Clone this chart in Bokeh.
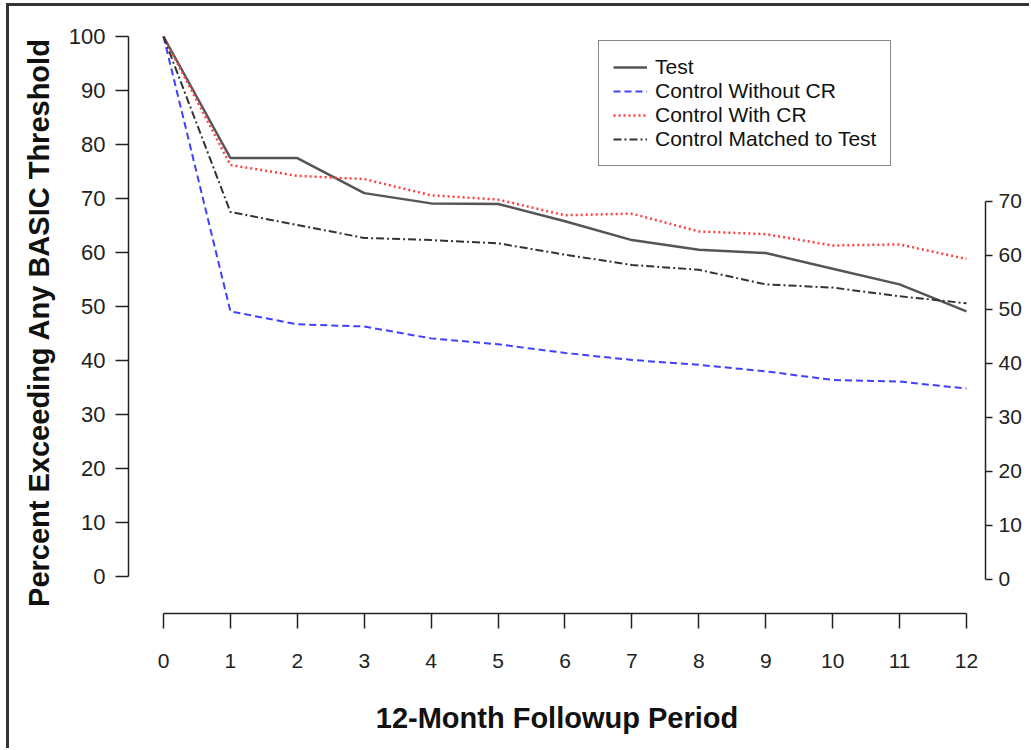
from bokeh.plotting import figure
from bokeh.models import Range1d, LinearAxis, FixedTicker, Legend, LegendItem
from bokeh.embed import file_html
from bokeh.resources import INLINE

months = list(range(13))
test = [100, 77.5, 77.5, 71.0, 69.1, 69.0, 65.8, 62.3, 60.5, 59.9, 57.0, 54.1, 49.1]
ctrl_without_cr = [100, 49.1, 46.7, 46.3, 44.1, 43.0, 41.4, 40.1, 39.2, 38.0, 36.4, 36.1, 34.8]
ctrl_with_cr = [100, 76.2, 74.2, 73.6, 70.6, 69.8, 66.9, 67.2, 63.9, 63.4, 61.3, 61.5, 58.8]
ctrl_matched = [100, 67.5, 65.1, 62.7, 62.3, 61.7, 59.6, 57.7, 56.8, 54.1, 53.5, 51.9, 50.6]
series_names = ["Test", "Control Without CR", "Control With CR", "Control Matched to Test"]
left_ticks = list(range(0, 101, 10))
right_ticks = list(range(0, 71, 10))

FONT = "Liberation Sans"
AX = "#222222"

p = figure(width=1023, height=745, output_backend="svg", toolbar_location=None,
           x_range=Range1d(-0.523, 12.284), y_range=Range1d(-6.85, 100.93),
           min_border_left=119, min_border_right=47, min_border_top=25, min_border_bottom=138,
           x_axis_location=None, y_axis_location=None)
p.styles = {"border-top": "3px solid #333333", "border-left": "3px solid #333333"}
p.margin = (3, 0, 0, 6)
p.grid.visible = False
p.outline_line_color = None
p.background_fill_color = "white"
p.border_fill_color = "white"
p.extra_y_ranges = {"right": Range1d(-6.30, 101.48)}

def style_axis(ax, tick_out, standoff, size):
    ax.axis_line_color = AX
    ax.axis_line_width = 1.5
    ax.major_tick_line_color = AX
    ax.major_tick_line_width = 1.5
    ax.major_tick_out = tick_out
    ax.major_tick_in = 0
    ax.minor_tick_line_color = None
    ax.major_label_text_font = FONT
    ax.major_label_text_font_size = size
    ax.major_label_text_color = AX
    ax.major_label_standoff = standoff
    ax.axis_label_text_font = FONT
    ax.axis_label_text_font_style = "bold"
    ax.axis_label_text_font_size = "29px"
    ax.axis_label_text_color = "#111111"

yl = LinearAxis(ticker=FixedTicker(ticks=left_ticks), bounds=(0, 100),
                axis_label="Percent Exceeding Any BASIC Threshold")
style_axis(yl, 13, 10, "22px")
yl.axis_label_standoff = 11
p.add_layout(yl, "left")

yr = LinearAxis(y_range_name="right", ticker=FixedTicker(ticks=right_ticks), bounds=(0, 70))
style_axis(yr, 7, 6, "21px")
p.add_layout(yr, "right")

xb = LinearAxis(ticker=FixedTicker(ticks=months), bounds=(0, 12),
                axis_label="12-Month Followup Period")
style_axis(xb, 15, 25, "21px")
xb.axis_label_standoff = 31
p.add_layout(xb, "below")

r1 = p.line(months, test, line_color="#555555", line_width=2.5)
r2 = p.line(months, ctrl_without_cr, line_color="#4040ff", line_width=2, line_dash="7 4")
r3 = p.line(months, ctrl_with_cr, line_color="#ff4040", line_width=2.5, line_dash="2 3")
r4 = p.line(months, ctrl_matched, line_color="#333333", line_width=2, line_dash="8 3 2 3")

legend = Legend(items=[LegendItem(label=n, renderers=[r]) for n, r in zip(series_names, [r1, r2, r3, r4])],
                location=(470, 447))
legend.label_text_font = FONT
legend.label_text_font_size = "21px"
legend.label_text_color = "#111111"
legend.border_line_color = "#111111"
legend.border_line_width = 1.5
legend.background_fill_color = "white"
legend.background_fill_alpha = 1
legend.padding = 14
legend.margin = 0
legend.spacing = 0
legend.glyph_width = 34
legend.glyph_height = 20
legend.label_height = 20
legend.label_standoff = 8
p.add_layout(legend, "center")

open("out.html", "w").write(file_html(p, INLINE))
